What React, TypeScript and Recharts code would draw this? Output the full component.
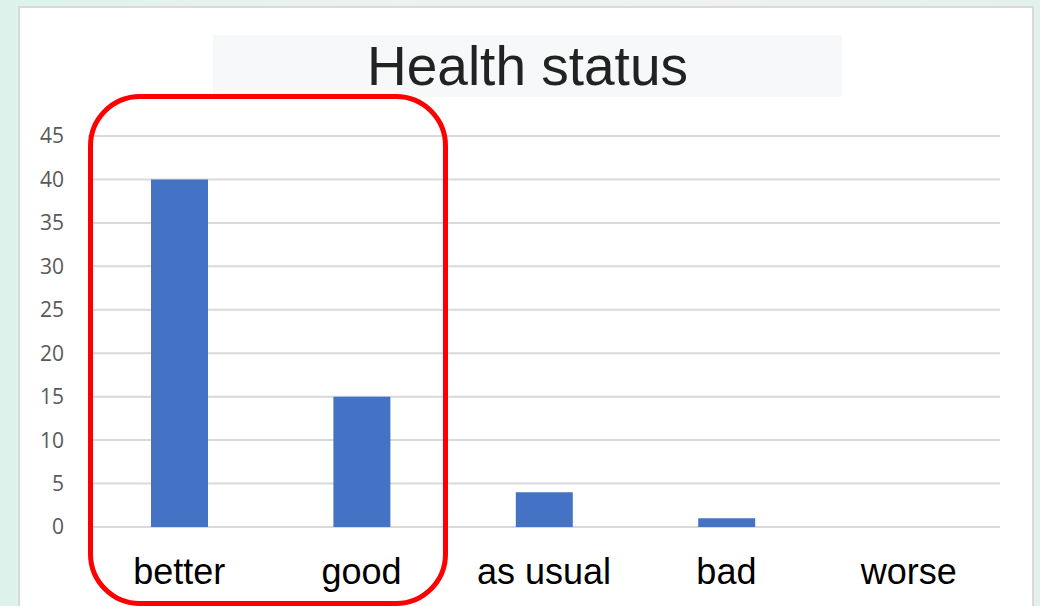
import { BarChart, Bar, XAxis, YAxis, CartesianGrid } from "recharts"

const categories = ["better", "good", "as usual", "bad", "worse"]
const counts = [40, 15, 4, 1, 0]
const yTicks = [0, 5, 10, 15, 20, 25, 30, 35, 40, 45]

const chartData = categories.map((name, i) => ({ name, count: counts[i] }))

export default function App() {
  return (
    <div
      style={{
        position: "absolute",
        left: 0,
        top: 0,
        width: 1040,
        height: 606,
        overflow: "hidden",
        background: "linear-gradient(90deg, #dcf3ec 0%, #eaf2ef 30%, #eef1f0 70%, #e2f1ec 100%)",
      }}
    >
      {/* white card */}
      <div
        style={{
          position: "absolute",
          left: 18,
          top: 6,
          width: 1016,
          height: 620,
          background: "#fff",
          border: "2px solid #d9d9d9",
          boxSizing: "border-box",
        }}
      />
      {/* title box */}
      <div
        style={{
          position: "absolute",
          left: 213,
          top: 35,
          width: 629,
          height: 62,
          background: "#f7f8f9",
        }}
      />
      <div
        style={{
          position: "absolute",
          left: 213,
          top: 35,
          width: 629,
          height: 62,
          lineHeight: "62px",
          textAlign: "center",
          fontFamily: "'Liberation Sans', Arial, sans-serif",
          fontSize: 55,
          color: "#222",
        }}
      >
        Health status
      </div>
      <div style={{ position: "absolute", left: 0, top: 0 }}>
        <BarChart
          width={1040}
          height={606}
          data={chartData}
          margin={{ top: 136, right: 40, left: 0, bottom: 0 }}
        >
          <CartesianGrid vertical={false} stroke="#d9d9d9" strokeWidth={2} />
          <XAxis
            dataKey="name"
            height={79}
            axisLine={false}
            tickLine={false}
            tickSize={0}
            tickMargin={31}
            interval={0}
            tick={{ fill: "#000", fontSize: 36, fontFamily: "'Liberation Sans', Arial, sans-serif" }}
          />
          <YAxis
            width={88}
            domain={[0, 45]}
            ticks={yTicks}
            axisLine={false}
            tickLine={false}
            tickSize={0}
            tickMargin={24}
            tick={{ fill: "#595959", fontSize: 21, fontFamily: "'Open Sans', 'Liberation Sans', sans-serif" }}
          />
          <Bar dataKey="count" fill="#4472c4" barSize={57} isAnimationActive={false} />
        </BarChart>
      </div>
      {/* red highlight around the first two categories */}
      <div
        style={{
          position: "absolute",
          left: 88,
          top: 94,
          width: 360,
          height: 512,
          border: "5px solid #ff0000",
          borderRadius: 52,
          boxSizing: "border-box",
          pointerEvents: "none",
        }}
      />
    </div>
  )
}
